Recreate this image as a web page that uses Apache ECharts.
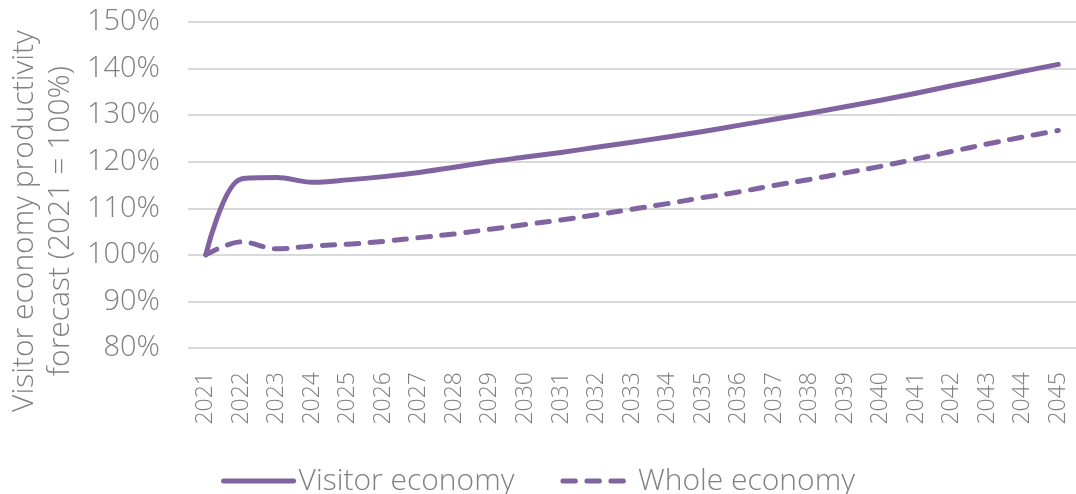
<!DOCTYPE html>
<html>
<head>
<meta charset="utf-8">
<script src="https://cdn.jsdelivr.net/npm/echarts@6/dist/echarts.min.js"></script>
<style>html,body{margin:0;padding:0;background:#fff}#c{width:1076px;height:494px}</style>
</head>
<body>
<div id="c"></div>
<script>
const years = ['2021','2022','2023','2024','2025','2026','2027','2028','2029','2030','2031','2032','2033','2034','2035','2036','2037','2038','2039','2040','2041','2042','2043','2044','2045'];
const visitorEconomy = [100,116.3,116.6,115.6,116.1,116.8,117.7,118.8,120.0,121.0,122.0,123.1,124.2,125.3,126.5,127.8,129.1,130.4,131.8,133.2,134.7,136.3,137.8,139.4,140.9];
const wholeEconomy = [100,102.8,101.3,101.9,102.3,102.9,103.7,104.5,105.5,106.5,107.5,108.6,109.8,111.0,112.3,113.5,114.9,116.2,117.6,119.0,120.6,122.2,123.8,125.3,126.7];
const yTicks = {min:80, max:150, interval:10};
const seriesNames = ['Visitor economy','Whole economy'];
const yTitle = 'Visitor economy productivity\nforecast (2021 = 100%)';

const purple = '#8064a2';
const grey = '#808080';
const font = 'Open Sans';
const chart = echarts.init(document.getElementById('c'));
chart.setOption({
  animation:false,
  textStyle:{fontFamily:font},
  grid:{left:188, right:0, top:22, bottom:146},
  legend:{
    top:461, left:'center', itemWidth:70, itemHeight:14, itemGap:46,
    textStyle:{fontSize:30, color:grey, fontFamily:font, fontWeight:300},
    itemStyle:{opacity:0},
    lineStyle:{width:5, cap:'round'},
    data:seriesNames
  },
  graphic:[{
    type:'text', x:42, y:221, rotation:Math.PI/2,
    style:{text:yTitle, fill:grey, font:'300 30px "Open Sans"', align:'center', verticalAlign:'middle', lineHeight:36}
  }],
  xAxis:{
    type:'category', data:years, boundaryGap:true,
    axisLine:{show:false}, axisTick:{show:false},
    axisLabel:{rotate:90, fontSize:23, color:grey, margin:24, fontFamily:font, fontWeight:300}
  },
  yAxis:{
    type:'value', min:yTicks.min, max:yTicks.max, interval:yTicks.interval,
    axisLine:{show:false}, axisTick:{show:false},
    axisLabel:{formatter:'{value}%', fontSize:29, color:grey, margin:28, fontFamily:font, fontWeight:300},
    splitLine:{lineStyle:{color:'#d9d9d9', width:2}}
  },
  series:[
    {name:seriesNames[0], type:'line', data:visitorEconomy, smooth:0.35, symbol:'none',
     lineStyle:{color:purple, width:5, cap:'round', join:'round'}, itemStyle:{color:purple}},
    {name:seriesNames[1], type:'line', data:wholeEconomy, smooth:0.35, symbol:'none',
     lineStyle:{color:purple, width:5, type:[12.5,11.5], cap:'round', join:'round'}, itemStyle:{color:purple}}
  ]
});
</script>
</body>
</html>
